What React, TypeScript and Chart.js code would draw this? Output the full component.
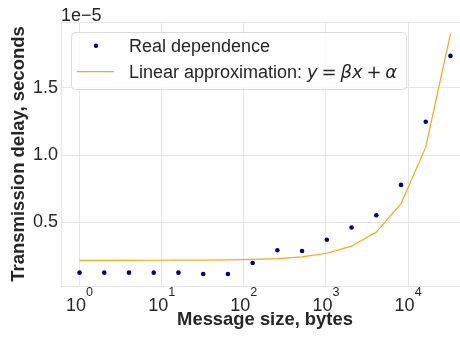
import React, { useEffect, useRef } from 'react';
import { Chart, registerables } from 'chart.js';

Chart.register(...registerables);

// ---- data (y values in units of 1e-5 s) ----
const MESSAGE_SIZES = [1, 2, 4, 8, 16, 32, 64, 128, 256, 512, 1024, 2048, 4096, 8192, 16384, 32768];
const REAL_DELAY = [0.127, 0.127, 0.127, 0.127, 0.127, 0.117, 0.117, 0.199, 0.293, 0.288, 0.372, 0.463, 0.554, 0.779, 1.248, 1.737];
const LINEAR_APPROX = [0.2186, 0.2186, 0.2187, 0.219, 0.2194, 0.2202, 0.2219, 0.2252, 0.2317, 0.2448, 0.2711, 0.3237, 0.4288, 0.639, 1.0594, 1.9];
const OFFSET_TEXT = '1e\u22125';
const X_TICKS = [1, 10, 100, 1000, 10000];
const X_TICK_BASE = '10';
const X_TICK_EXPONENTS = ['0', '1', '2', '3', '4'];
const Y_TICKS = [0.5, 1.0, 1.5];
const LEGEND_LABELS = ['Real dependence', 'Linear approximation: '];
const LEGEND_MATH: [string, boolean][] = [['y', true], ['=', false], ['\u03b2x', true], ['+', false], ['\u03b1', true]];
const X_TITLE = 'Message size, bytes';
const Y_TITLE = 'Transmission delay, seconds';

// ---- styles ----
const FONT = "'Liberation Sans', Arial, sans-serif";
const MATH_FONT = "'DejaVu Sans', sans-serif";
const TEXT = '#262626';
const GRID = '#e5e5e5';
const POINT_COLOR = '#000080';
const LINE_COLOR = '#ffa31a';
const X_MIN = Math.pow(10, -0.2257);
const X_MAX = Math.pow(10, 4.7411);
const Y_MIN = 0.0279;
const Y_MAX = 1.989;

const overlayPlugin = {
  id: 'overlay',
  beforeDatasetsDraw(chart: any) {
    const { ctx, chartArea: a } = chart;
    ctx.save();
    ctx.strokeStyle = GRID;
    ctx.lineWidth = 1;
    ctx.beginPath();
    ctx.moveTo(a.left, Math.round(a.top) + 0.5);
    ctx.lineTo(a.right, Math.round(a.top) + 0.5);
    ctx.stroke();
    ctx.restore();
  },
  afterDraw(chart: any) {
    const { ctx, chartArea: a, scales } = chart;
    const xs = scales.x;
    ctx.save();
    // x tick labels 10^n
    ctx.fillStyle = TEXT;
    ctx.textBaseline = 'alphabetic';
    X_TICKS.forEach((v, i) => {
      const px = xs.getPixelForValue(v);
      ctx.font = `18px ${FONT}`;
      const wb = ctx.measureText(X_TICK_BASE).width;
      ctx.font = `12.6px ${FONT}`;
      const we = ctx.measureText(X_TICK_EXPONENTS[i]).width;
      const left = px - (wb + we) / 2;
      ctx.font = `18px ${FONT}`;
      ctx.textAlign = 'left';
      ctx.fillText(X_TICK_BASE, left, a.bottom + 25);
      ctx.font = `12.6px ${FONT}`;
      ctx.fillText(X_TICK_EXPONENTS[i], left + wb, a.bottom + 9.6);
    });
    // offset text
    ctx.font = `18px ${FONT}`;
    ctx.textAlign = 'left';
    ctx.fillText(OFFSET_TEXT, a.left, a.top - 1.5);

    // legend
    const bx = a.left + 10;
    const by = a.top + 10;
    const textX = bx + 58;
    ctx.font = `18px ${FONT}`;
    let mathW = 0;
    const gap = 3.8;
    const pieceW: number[] = [];
    LEGEND_MATH.forEach(([t, it]) => {
      ctx.font = `${it ? 'italic ' : ''}18px ${MATH_FONT}`;
      const w = ctx.measureText(t).width;
      pieceW.push(w);
      mathW += w;
    });
    mathW += gap * (LEGEND_MATH.length - 1);
    ctx.font = `18px ${FONT}`;
    const l2w = ctx.measureText(LEGEND_LABELS[1]).width;
    const bw = 58 + l2w + mathW + 9;
    const bh = 57;
    ctx.beginPath();
    ctx.roundRect(bx + 0.5, by + 0.5, bw, bh, 4);
    ctx.fillStyle = 'rgba(255,255,255,0.8)';
    ctx.fill();
    ctx.strokeStyle = 'rgba(214,214,214,0.9)';
    ctx.lineWidth = 1;
    ctx.stroke();

    const r1 = by + 13.7;
    const r2 = by + 39.7;
    ctx.beginPath();
    ctx.arc(bx + 25, r1, 2.2, 0, Math.PI * 2);
    ctx.fillStyle = POINT_COLOR;
    ctx.fill();
    ctx.beginPath();
    ctx.moveTo(bx + 6, r2);
    ctx.lineTo(bx + 43, r2);
    ctx.strokeStyle = LINE_COLOR;
    ctx.lineWidth = 1.2;
    ctx.stroke();

    ctx.fillStyle = TEXT;
    ctx.font = `18px ${FONT}`;
    ctx.fillText(LEGEND_LABELS[0], textX, r1 + 6.3);
    ctx.fillText(LEGEND_LABELS[1], textX, r2 + 6.3);
    let mx = textX + l2w;
    LEGEND_MATH.forEach(([t, it], i) => {
      ctx.font = `${it ? 'italic ' : ''}18px ${MATH_FONT}`;
      ctx.fillText(t, mx, r2 + 6.3);
      mx += pieceW[i] + gap;
    });
    ctx.restore();
  },
};

export default function App() {
  const ref = useRef<HTMLCanvasElement>(null);
  useEffect(() => {
    const canvas = ref.current;
    if (!canvas) return;
    const chart = new Chart(canvas, {
      type: 'line',
      data: {
        datasets: [
          {
            label: LEGEND_LABELS[0],
            data: MESSAGE_SIZES.map((x, i) => ({ x, y: REAL_DELAY[i] })),
            showLine: false,
            pointRadius: 2.3,
            pointBackgroundColor: POINT_COLOR,
            pointBorderWidth: 0,
            borderColor: POINT_COLOR,
          },
          {
            label: LEGEND_LABELS[1],
            data: MESSAGE_SIZES.map((x, i) => ({ x, y: LINEAR_APPROX[i] })),
            borderColor: LINE_COLOR,
            borderWidth: 1.2,
            pointRadius: 0,
            tension: 0,
          },
        ],
      },
      options: {
        animation: false,
        responsive: false,
        devicePixelRatio: 1,
        layout: { padding: { top: 22, right: 11, left: 0, bottom: 0 } },
        plugins: { legend: { display: false }, tooltip: { enabled: false }, title: { display: false } },
        scales: {
          x: {
            type: 'logarithmic',
            min: X_MIN,
            max: X_MAX,
            afterBuildTicks: (s: any) => {
              s.ticks = X_TICKS.map((v) => ({ value: v }));
            },
            afterFit: (s: any) => {
              s.height = 51;
            },
            grid: { color: GRID, lineWidth: 1, drawTicks: false },
            border: { color: GRID },
            ticks: { display: false },
            title: {
              display: true,
              text: X_TITLE,
              color: TEXT,
              font: { family: FONT, size: 18.4, weight: 'bold' },
              padding: { top: 0, bottom: 6 },
            },
          },
          y: {
            type: 'linear',
            min: Y_MIN,
            max: Y_MAX,
            afterBuildTicks: (s: any) => {
              s.ticks = Y_TICKS.map((v) => ({ value: v }));
            },
            afterFit: (s: any) => {
              s.width = 61;
            },
            grid: { color: GRID, lineWidth: 1, drawTicks: false },
            border: { color: GRID },
            ticks: {
              color: TEXT,
              padding: 3,
              font: { family: FONT, size: 18 },
              callback: (v: any) => Number(v).toFixed(1),
            },
            title: {
              display: true,
              text: Y_TITLE,
              color: TEXT,
              font: { family: FONT, size: 18.5, weight: 'bold' },
              padding: { top: 8, bottom: 0 },
            },
          },
        },
      } as any,
      plugins: [overlayPlugin],
    });
    return () => chart.destroy();
  }, []);
  return (
    <div style={{ position: 'fixed', left: 0, top: 0, width: 460, height: 337, overflow: 'hidden', background: '#fff' }}>
      <canvas ref={ref} width={480} height={337} style={{ display: 'block' }} />
    </div>
  );
}
